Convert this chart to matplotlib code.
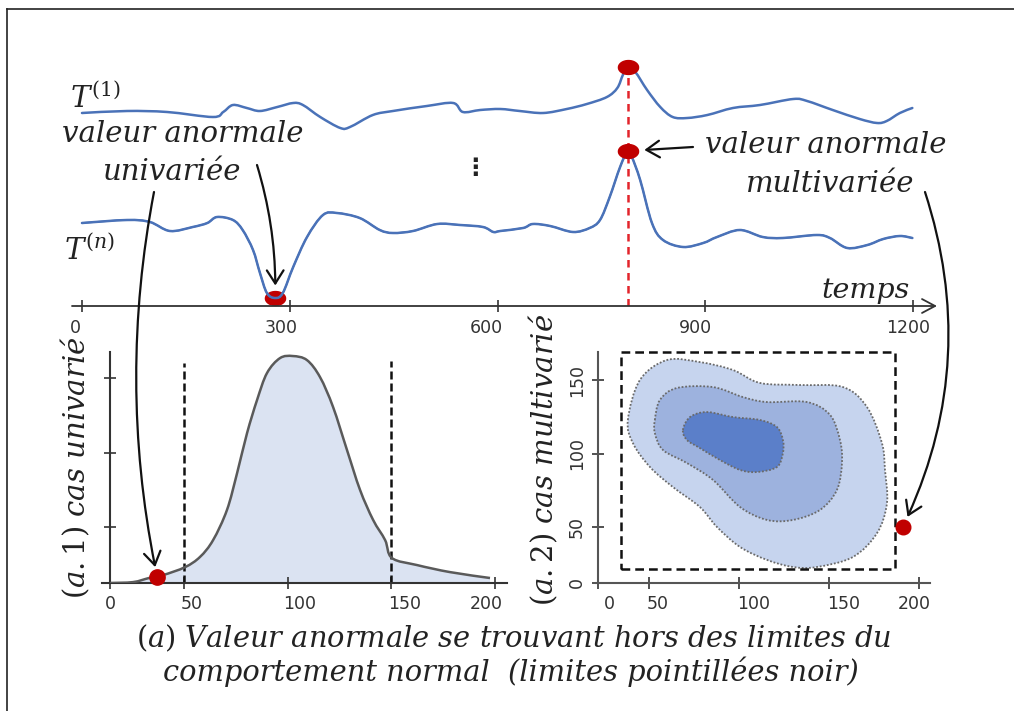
import numpy as np
import matplotlib
matplotlib.use("Agg")
import matplotlib.pyplot as plt
import matplotlib.transforms as mtransforms
from matplotlib.path import Path
from matplotlib.patches import PathPatch, Rectangle, ConnectionPatch
from matplotlib.lines import Line2D
from matplotlib.markers import MarkerStyle

plt.rcParams["mathtext.fontset"] = "dejavuserif"

# ---------------------------------------------------------------- data
# time series (time, amplitude)
time_ticks = [0, 300, 600, 900, 1200]
t1_time = [0, 65, 123, 189, 204, 218, 238, 257, 282, 305, 319, 344, 373, 387,
           420, 449, 498, 536, 550, 575, 604, 632, 666, 700, 729, 758, 773,
           781, 788, 799, 816, 835, 853, 874, 903, 940, 979, 1027, 1047,
           1084, 1123, 1148, 1162, 1181, 1199]
t1_value = [19.3, 19.5, 19.4, 18.9, 19.4, 20.1, 19.8, 19.5, 19.9, 20.3, 20.1,
            18.9, 17.8, 17.9, 19.1, 19.5, 20.0, 20.3, 19.4, 19.6, 19.7, 19.5,
            19.3, 19.7, 20.2, 20.9, 21.8, 23.1, 23.9, 23.4, 21.6, 19.9, 18.9,
            18.8, 19.1, 19.8, 20.1, 20.7, 20.5, 19.6, 18.7, 18.3, 18.5, 19.3,
            19.8]
tn_time = [0, 65, 98, 127, 160, 181, 195, 218, 232, 247, 257, 267, 279, 290,
           305, 325, 348, 368, 401, 430, 449, 478, 513, 546, 579, 594, 604,
           637, 651, 676, 709, 733, 748, 762, 777, 788, 794, 806, 823, 839,
           868, 897, 917, 950, 983, 1012, 1061, 1080, 1105, 1134, 1157, 1181,
           1199]
tn_value = [8.3, 8.6, 8.4, 7.5, 7.9, 8.3, 8.9, 8.6, 7.6, 5.6, 3.3, 1.3, 0.8,
            1.3, 3.9, 6.9, 9.1, 9.3, 8.8, 7.6, 7.3, 7.5, 8.2, 8.1, 7.9, 7.4,
            7.5, 7.8, 8.2, 8.0, 7.4, 7.8, 8.6, 10.9, 13.9, 15.5, 14.9, 12.6,
            8.3, 6.6, 5.9, 6.3, 6.9, 7.6, 6.9, 6.8, 7.1, 6.8, 5.8, 6.1, 6.7,
            7.0, 6.8]
multi_anomaly_time = 788
multi_anomaly_t1 = 23.9
multi_anomaly_tn = 15.5
uni_anomaly_time = 279
uni_anomaly_tn = 0.8

# univariate density (value, relative density)
uni_ticks = [14.3, 50, 100, 150, 200]
uni_tick_labels = ["0", "50", "100", "150", "200"]
uni_ytick = [0.247, 0.573, 0.903]
dens_x = [14.3, 25.4, 33.1, 39.9, 50.5, 57.7, 64.0, 70.7, 75.6, 80.4, 85.2,
          90.0, 96.3, 102.5, 109.3, 115.6, 121.9, 128.6, 134.9, 141.2, 147.0,
          150.3, 162.4, 178.3, 197.6]
dens_y = [0.0, 0.004, 0.022, 0.035, 0.070, 0.115, 0.189, 0.322, 0.485, 0.661,
          0.806, 0.925, 0.991, 1.0, 0.982, 0.907, 0.775, 0.586, 0.410, 0.278,
          0.189, 0.110, 0.079, 0.048, 0.022]
uni_limits = [50, 150]
uni_limit_top = [0.97, 0.98]
uni_outlier = (37.0, 0.028)

# multivariate density contours (x, y)
multi_ticks = [21.7, 50, 100, 150, 200]
multi_tick_labels = ["0", "50", "100", "150", "200"]
multi_yticks = [11.9, 50, 100, 150]
multi_ytick_labels = ["0", "50", "100", "150"]
outer_x = [38.3, 45, 60, 78.3, 96.7, 111.7, 133.9, 157.8, 171.1, 179.4, 181.1,
           182.2, 176.7, 163.3, 143.3, 130, 115.6, 100.6, 87.8, 78.3, 63.3,
           50.6, 41.1]
outer_y = [122.8, 150, 163.6, 162.2, 156.8, 148, 146.6, 145.2, 131.6, 107.1,
           88.8, 66.3, 45.9, 29.6, 22.8, 22.8, 27.6, 36.4, 50, 63.6, 77.2,
           90.8, 107.1]
middle_x = [53.3, 56.1, 65.6, 85.6, 102.2, 115.6, 137.8, 150.6, 156.1, 157.2,
            154.4, 145, 130, 115.6, 100.6, 85.6, 71.1, 57.8, 53.3]
middle_y = [122.8, 136.4, 144.6, 145.2, 138.4, 135, 135, 126.2, 109.2, 93.5,
            75.2, 61.6, 54.8, 54.8, 63.6, 82, 93.5, 102.4, 113.9]
inner_x = [68.9, 72.8, 82.2, 96.7, 111.7, 121.1, 124.4, 124.4, 121.1, 110,
           100.6, 89.4, 78.3, 71.1]
inner_y = [116, 124.8, 128.2, 124.8, 122.8, 118, 109.2, 100.3, 90.8, 87.4,
           88.8, 95.6, 103.7, 109.2]
normal_box = (34.4, 186.7, 21.4, 169.0)
multi_outlier = (191, 50)

# ---------------------------------------------------------------- figure
W, H = 1014, 711
fig = plt.figure(figsize=(W / 100, H / 100), dpi=100)
fig.patch.set_facecolor("white")

SERIF = "DejaVu Serif"
BLUE = "#4a72b8"
RED = "#c00000"
AXC = "#333333"


def px_axes(x0, y0, x1, y1):
    """Axes placed by a pixel box given from the top-left corner."""
    ax = fig.add_axes([x0 / W, 1 - y1 / H, (x1 - x0) / W, (y1 - y0) / H])
    ax.patch.set_visible(False)
    return ax


def fxy(x, y):
    return (x / W, 1 - y / H)


def nudge_labels(labels, shifts_px):
    """Shift tick labels sideways by a few pixels each."""
    for lab, dx in zip(labels, shifts_px):
        lab.set_transform(lab.get_transform() + mtransforms.ScaledTranslation(
            dx / fig.dpi, 0, fig.dpi_scale_trans))


def spline_path(xs, ys, closed=False):
    """Cubic Bezier path (Catmull-Rom tangents) passing through every point."""
    p = np.column_stack([xs, ys]).astype(float)
    n = len(p)
    if closed:
        ext = np.vstack([p[-1], p, p[0], p[1]])
        segs = n
    else:
        ext = np.vstack([p[0], p, p[-1]])
        segs = n - 1
    verts = [ext[1]]
    codes = [Path.MOVETO]
    for i in range(segs):
        p0, p1, p2, p3 = ext[i], ext[i + 1], ext[i + 2], ext[i + 3]
        verts += [p1 + (p2 - p0) / 6, p2 - (p3 - p1) / 6, p2]
        codes += [Path.CURVE4] * 3
    if closed:
        verts.append(ext[1])
        codes.append(Path.CLOSEPOLY)
    return Path(verts, codes)


def spline_line(ax, xs, ys, **kw):
    ax.add_patch(PathPatch(spline_path(xs, ys), fill=False,
                           capstyle="round", joinstyle="round", **kw))


theta = np.linspace(0, 2 * np.pi, 61)
oval = MarkerStyle(np.column_stack([1.45 * np.cos(theta), np.sin(theta)]))

# frame lines (top and left)
fig.add_artist(Line2D([7 / W, 1.0], [1 - 9 / H, 1 - 9 / H], color="#222", lw=1.2))
fig.add_artist(Line2D([7 / W, 7 / W], [0, 1 - 9 / H], color="#222", lw=1.2))

# ---------------------------------------------------------------- time series
ax_ts = px_axes(72, 40, 937, 306)
ax_ts.set_xlim(-14.4, 1234.6)
ax_ts.set_ylim(0, 26.6)
for s in ax_ts.spines.values():
    s.set_visible(False)
ax_ts.yaxis.set_visible(False)
ax_ts.set_xticks(time_ticks)
ax_ts.tick_params(axis="x", direction="inout", length=9, width=1.2,
                  colors=AXC, labelsize=12.5, pad=5)
nudge_labels(ax_ts.get_xticklabels(), [-7, -9, -11, -10, -5])
ax_ts.annotate("", xy=(1234.6, 0), xytext=(-14.4, 0),
               arrowprops=dict(arrowstyle="->,head_length=0.47,head_width=0.25",
                               lw=1.3, color=AXC, shrinkA=0, shrinkB=0,
                               mutation_scale=20),
               annotation_clip=False)

ax_ts.plot([multi_anomaly_time, multi_anomaly_time], [0, multi_anomaly_t1],
           color="#e3242b", lw=1.8, ls=(0, (3, 2.2)), zorder=2)
spline_line(ax_ts, t1_time, t1_value, ec=BLUE, lw=1.8, zorder=3)
spline_line(ax_ts, tn_time, tn_value, ec=BLUE, lw=1.8, zorder=3)
ax_ts.plot([multi_anomaly_time, multi_anomaly_time],
           [multi_anomaly_t1, multi_anomaly_tn], ls="none", marker=oval,
           ms=14.5, color=RED, zorder=4, clip_on=False)
ax_ts.plot([uni_anomaly_time], [uni_anomaly_tn], ls="none", marker=oval,
           ms=14.5, color=RED, zorder=2, clip_on=False)
spline_line(ax_ts, tn_time, tn_value, ec=BLUE, lw=1.2, zorder=2.5)

# ---------------------------------------------------------------- univariate
ax_u = px_axes(102, 351.5, 507, 583)
ax_u.set_xlim(10.4, 205.8)
ax_u.set_ylim(0, 1.02)
ax_u.spines["top"].set_visible(False)
ax_u.spines["right"].set_visible(False)
ax_u.spines["left"].set_position(("data", 14.3))
for s in ("left", "bottom"):
    ax_u.spines[s].set_color(AXC)
    ax_u.spines[s].set_linewidth(1.5)
ax_u.set_xticks(uni_ticks)
ax_u.set_xticklabels(uni_tick_labels)
ax_u.set_yticks(uni_ytick)
ax_u.set_yticklabels([])
ax_u.tick_params(direction="inout", length=9, width=1.2, colors=AXC,
                 labelsize=12.5, pad=4)
nudge_labels(ax_u.get_xticklabels(), [0, 8, 12, 13, -9])
curve = spline_path(dens_x, dens_y)
area = Path(np.vstack([curve.vertices, [[dens_x[-1], 0], [dens_x[0], 0],
                                        [dens_x[0], 0]]]),
            list(curve.codes) + [Path.LINETO, Path.LINETO, Path.CLOSEPOLY])
ax_u.add_patch(PathPatch(area, fc="#dbe3f2", lw=0, zorder=1))
ax_u.add_patch(PathPatch(curve, fill=False, ec="#5a5a5a", lw=1.8, zorder=3))
for lim, top in zip(uni_limits, uni_limit_top):
    ax_u.plot([lim, lim], [0, top], color="#111", lw=1.8, ls=(0, (3.2, 1.6)),
              zorder=2)
ax_u.plot([uni_outlier[0]], [uni_outlier[1]], "o", ms=11, color=RED, zorder=4,
          clip_on=False)

# ---------------------------------------------------------------- multivariate
ax_m = px_axes(596, 351.5, 930, 583)
ax_m.set_xlim(20.6, 206.1)
ax_m.set_ylim(11.9, 169.4)
ax_m.spines["top"].set_visible(False)
ax_m.spines["right"].set_visible(False)
ax_m.spines["left"].set_position(("data", 21.7))
for s in ("left", "bottom"):
    ax_m.spines[s].set_color("#555")
    ax_m.spines[s].set_linewidth(1.5)
ax_m.set_xticks(multi_ticks)
ax_m.set_xticklabels(multi_tick_labels)
ax_m.set_yticks(multi_yticks)
ax_m.set_yticklabels(multi_ytick_labels, rotation=90, va="center")
ax_m.tick_params(direction="inout", length=9, width=1.2, colors=AXC,
                 labelsize=12.5, pad=4)
nudge_labels(ax_m.get_xticklabels(), [11, 9, 15, 15, -5])

for xs, ys, fc in ((outer_x, outer_y, "#c6d4ee"),
                   (middle_x, middle_y, "#9db2de"),
                   (inner_x, inner_y, "#5b7fc9")):
    ax_m.add_patch(PathPatch(spline_path(xs, ys, closed=True), fc=fc,
                             ec="#6a6a6a", lw=1.3, ls=(0, (1, 1)), zorder=2))
bx0, bx1, by0, by1 = normal_box
ax_m.add_patch(Rectangle((bx0, by0), bx1 - bx0, by1 - by0, fill=False,
                         ec="#111", lw=1.8, ls=(0, (3.5, 2)), zorder=3,
                         clip_on=False))
ax_m.plot([multi_outlier[0]], [multi_outlier[1]], "o", ms=10.5, color=RED,
          zorder=4, clip_on=False)

# ---------------------------------------------------------------- text
italic = dict(family=SERIF, style="italic", color="#222")
fig.text(*fxy(70, 108), r"$T^{(1)}$", fontsize=21, ha="left", va="baseline",
         color="#222")
fig.text(*fxy(64, 260), r"$T^{(n)}$", fontsize=21, ha="left", va="baseline",
         color="#222")
fig.text(*fxy(183, 142), "valeur anormale", fontsize=21, ha="center",
         va="baseline", **italic)
fig.text(*fxy(171, 180), "univariée", fontsize=21, ha="center",
         va="baseline", **italic)
fig.text(*fxy(826, 153), "valeur anormale", fontsize=21, ha="center",
         va="baseline", **italic)
fig.text(*fxy(830, 192), "multivariée", fontsize=21, ha="center",
         va="baseline", **italic)
fig.text(*fxy(866, 298), "temps", fontsize=20.5, ha="center", va="baseline",
         **italic)
fig.text(*fxy(475, 168), "⋮", fontsize=17, ha="center", va="center",
         family="DejaVu Sans", weight="bold", color="#222")
fig.text(*fxy(75, 468), r"$(a.1)$ cas univarié", fontsize=21, rotation=90,
         ha="center", va="center", **italic)
fig.text(*fxy(543, 460), r"$(a.2)$ cas multivarié", fontsize=21,
         rotation=90, ha="center", va="center", **italic)
fig.text(*fxy(514, 647), r"$(a)$ Valeur anormale se trouvant hors des limites du",
         fontsize=20.8, ha="center", va="baseline", **italic)
fig.text(*fxy(511, 681), "comportement normal  (limites pointillées noir)",
         fontsize=20.8, ha="center", va="baseline", **italic)

# ---------------------------------------------------------------- arrows
arrow_kw = dict(arrowstyle="->,head_length=0.47,head_width=0.3",
                mutation_scale=20, lw=1.6, color="#111", shrinkA=0)
# univariate label -> dip in T(n)
fig.add_artist(ConnectionPatch(fxy(257, 165), (uni_anomaly_time, uni_anomaly_tn),
                               coordsA="figure fraction", coordsB=ax_ts.transData,
                               connectionstyle="arc3,rad=-0.08", shrinkB=9,
                               **arrow_kw))
# univariate label -> outlier of the density
fig.add_artist(ConnectionPatch(fxy(154, 192), uni_outlier,
                               coordsA="figure fraction", coordsB=ax_u.transData,
                               connectionstyle="arc3,rad=0.1", shrinkB=7,
                               **arrow_kw))
# multivariate label -> peak in T(n)
fig.add_artist(ConnectionPatch(fxy(693, 147), (multi_anomaly_time, multi_anomaly_tn),
                               coordsA="figure fraction", coordsB=ax_ts.transData,
                               connectionstyle="arc3,rad=0", shrinkB=12,
                               **arrow_kw))
# multivariate label -> outlier of the joint density
fig.add_artist(ConnectionPatch(fxy(925, 192), multi_outlier,
                               coordsA="figure fraction", coordsB=ax_m.transData,
                               connectionstyle="arc3,rad=-0.2", shrinkB=8,
                               **arrow_kw))

fig.savefig("out.png", dpi=100, facecolor="white")
